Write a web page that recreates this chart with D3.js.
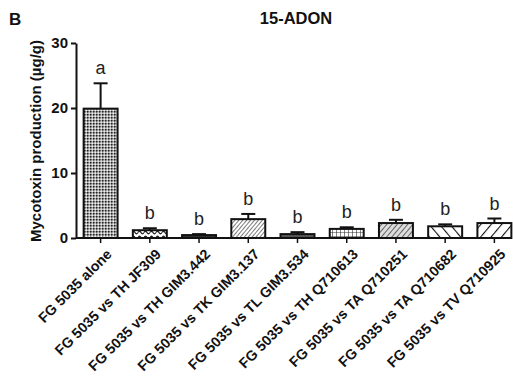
<!DOCTYPE html>
<html><head><meta charset="utf-8">
<script src="https://cdn.jsdelivr.net/npm/d3@7"></script>
<style>body{margin:0;background:#fff}svg{display:block}text{font-family:"Liberation Sans",Arial,sans-serif;font-weight:bold}</style>
</head><body>
<script>
const categories = ["FG 5035 alone","FG 5035 vs TH JF309","FG 5035 vs TH GIM3.442","FG 5035 vs TK GIM3.137","FG 5035 vs TL GIM3.534","FG 5035 vs TH Q710613","FG 5035 vs TA Q710251","FG 5035 vs TA Q710682","FG 5035 vs TV Q710925"];
const means = [19.9, 1.2, 0.45, 2.9, 0.6, 1.4, 2.3, 1.8, 2.3];
const errors = [3.9, 0.3, 0.15, 0.8, 0.3, 0.25, 0.5, 0.3, 0.7];
const letters = ["a","b","b","b","b","b","b","b","b"];
const yTicks = [0, 10, 20, 30];
const patterns = ["dots","wave","dark","hatchFine","darkDots","grid","hatchFine2","backWide","fwdWide"];

const W = 513, H = 380;
const svg = d3.select("body").append("svg").attr("width", W).attr("height", H);
const defs = svg.append("defs");

function pat(id, w, h, draw, transform) {
  const p = defs.append("pattern").attr("id", id).attr("patternUnits", "userSpaceOnUse").attr("width", w).attr("height", h);
  if (transform) p.attr("patternTransform", transform);
  p.append("rect").attr("width", w).attr("height", h).attr("fill", "#fff");
  draw(p);
}
pat("dots", 3, 3, p => { p.select("rect").attr("fill", "#aaa"); p.append("rect").attr("width", 1.5).attr("height", 1.5).attr("fill", "#222"); p.append("rect").attr("x", 1.5).attr("y", 1.5).attr("width", 1.5).attr("height", 1.5).attr("fill", "#eee"); });
pat("wave", 6, 5, p => { p.append("path").attr("d", "M0,2.5 Q1.5,0 3,2.5 T6,2.5").attr("stroke", "#222").attr("fill", "none").attr("stroke-width", 1.3); });
pat("dark", 3, 3, p => { p.select("rect").attr("fill", "#333"); p.append("rect").attr("width", 1).attr("height", 1).attr("fill", "#888"); });
pat("hatchFine", 3, 3, p => { p.append("line").attr("x1", 0).attr("y1", 0).attr("x2", 0).attr("y2", 3).attr("stroke", "#444").attr("stroke-width", 1.4); }, "rotate(40)");
pat("darkDots", 3, 3, p => { p.select("rect").attr("fill", "#555"); p.append("rect").attr("width", 1.2).attr("height", 1.2).attr("fill", "#bbb"); });
pat("grid", 4, 4, p => { p.append("path").attr("d", "M0,0H4M0,0V4").attr("stroke", "#333").attr("stroke-width", 1.2); });
pat("hatchFine2", 4, 4, p => { p.select("rect").attr("fill", "#ddd"); p.append("line").attr("x1", 0).attr("y1", 0).attr("x2", 0).attr("y2", 4).attr("stroke", "#444").attr("stroke-width", 1.6); }, "rotate(40)");
pat("backWide", 8, 8, p => { p.append("line").attr("x1", 0).attr("y1", 0).attr("x2", 0).attr("y2", 8).attr("stroke", "#111").attr("stroke-width", 2.2); }, "rotate(-40)");
pat("fwdWide", 8, 8, p => { p.append("line").attr("x1", 0).attr("y1", 0).attr("x2", 0).attr("y2", 8).attr("stroke", "#111").attr("stroke-width", 2.2); }, "rotate(40)");

const x0 = 76, y0 = 238;
const x = d3.scaleBand().domain(categories).range([x0, 519]).paddingInner(0.31).paddingOuter(0.155);
const y = d3.scaleLinear().domain([0, 30]).range([y0, 43]);

// bars
const g = svg.append("g");
categories.forEach((c, i) => {
  const bx = x(c), bw = x.bandwidth(), cx = bx + bw / 2;
  const top = y(means[i]), et = y(means[i] + errors[i]);
  g.append("line").attr("x1", cx).attr("x2", cx).attr("y1", top).attr("y2", et).attr("stroke", "#111").attr("stroke-width", 2);
  g.append("line").attr("x1", cx - 7).attr("x2", cx + 7).attr("y1", et).attr("y2", et).attr("stroke", "#111").attr("stroke-width", 2);
  g.append("rect").attr("x", bx).attr("y", top).attr("width", bw).attr("height", y0 - top)
    .attr("fill", `url(#${patterns[i]})`).attr("stroke", "#111").attr("stroke-width", 2);
  g.append("text").attr("x", cx).attr("y", et - 9).attr("text-anchor", "middle")
    .style("font-weight", "normal").style("font-size", "18px").attr("fill", "#222").text(letters[i]);
});

// y axis
const ya = svg.append("g").attr("transform", `translate(${x0},0)`)
  .call(d3.axisLeft(y).tickValues(yTicks).tickSize(5).tickPadding(3).tickSizeOuter(0));
ya.select(".domain").attr("stroke-width", 2).attr("stroke", "#111");
ya.selectAll(".tick line").attr("stroke-width", 2).attr("stroke", "#111");
ya.selectAll("text").style("font-size", "15px").attr("fill", "#111").style("font-family", "'Liberation Sans',Arial,sans-serif");

// x axis
const xa = svg.append("g").attr("transform", `translate(0,${y0})`)
  .call(d3.axisBottom(x).tickSize(5).tickSizeOuter(0).tickPadding(6));
xa.select(".domain").attr("d", `M${x0},0H512`).attr("stroke-width", 2).attr("stroke", "#111");
xa.selectAll(".tick line").attr("stroke-width", 1.5).attr("stroke", "#111");
xa.selectAll("text").style("font-size", "14.3px").attr("fill", "#111")
  .style("font-family", "'Liberation Sans',Arial,sans-serif")
  .attr("text-anchor", "end").attr("x", 0).attr("y", 0).attr("dy", "0.7em")
  .attr("transform", "translate(5,10) rotate(-45)");

// titles
svg.append("text").attr("x", 296).attr("y", 24).attr("text-anchor", "middle").style("font-size", "16.5px").attr("fill", "#111").text("15-ADON");
svg.append("text").attr("x", 9).attr("y", 25).style("font-size", "17px").attr("fill", "#111").text("B");
svg.append("text").attr("transform", "translate(41,141) rotate(-90)").attr("text-anchor", "middle")
  .style("font-size", "15px").attr("fill", "#111").text("Mycotoxin production (µg/g)");
</script>
</body></html>
